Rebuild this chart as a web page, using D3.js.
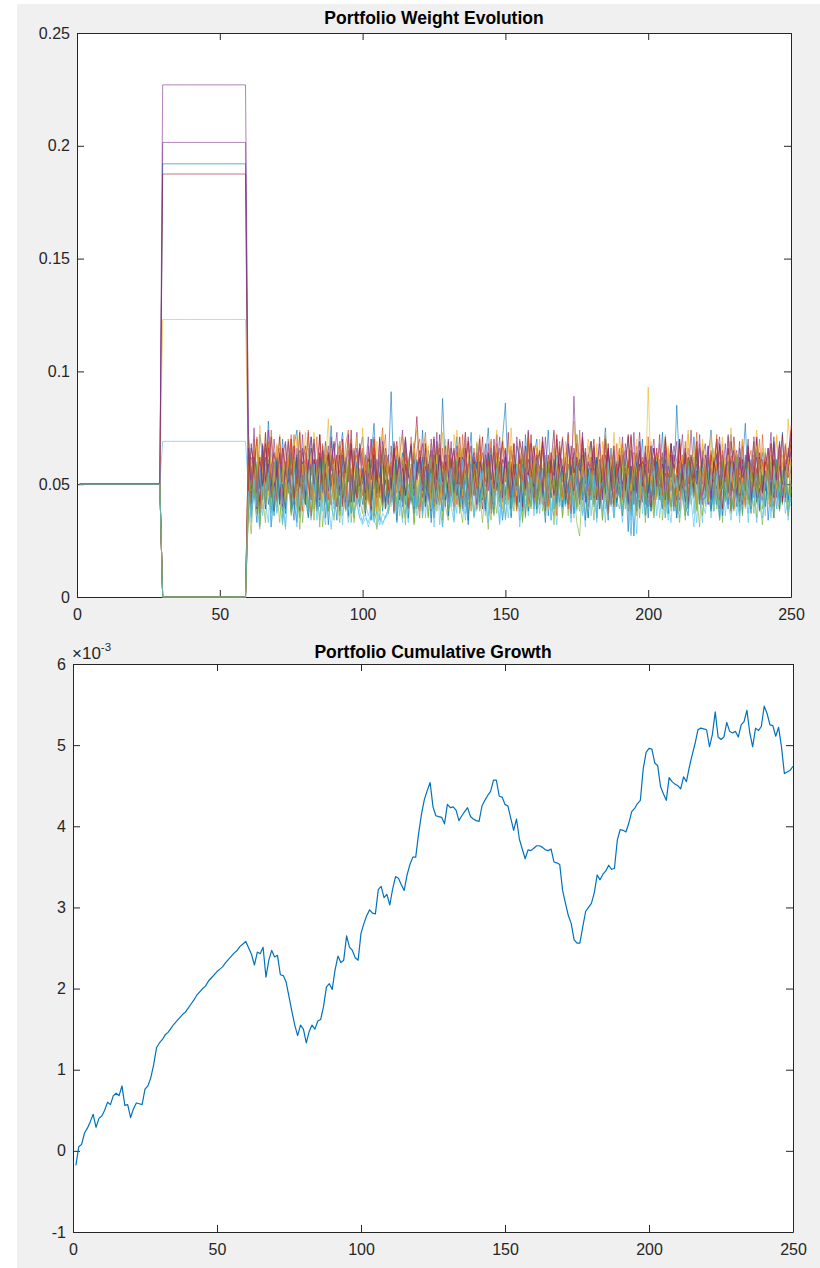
<!DOCTYPE html>
<html>
<head>
<meta charset="utf-8">
<script src="https://cdn.jsdelivr.net/npm/d3@7"></script>
<style>
  html, body { margin: 0; padding: 0; background: #ffffff; }
  svg { display: block; font-family: "Liberation Sans", Arial, Helvetica, sans-serif; }
</style>
</head>
<body>
<svg id="fig" width="820" height="1268"></svg>
<script>
// ---------- data ----------
const dayTicks = [0, 50, 100, 150, 200, 250];
const weightTicks = [0, 0.05, 0.1, 0.15, 0.2, 0.25];
const weightTickLabels = ["0", "0.05", "0.1", "0.15", "0.2", "0.25"];
const growthTicks = [-1, 0, 1, 2, 3, 4, 5, 6];

// equal weight over days 1-29
const equalWeight = 0.05;
// concentrated allocation held over days 30-59 (one value per asset)
const blockWeights = [0, 0, 0, 0.2015, 0, 0, 0, 0.192, 0, 0.123,
                      0, 0, 0.069, 0.1875, 0, 0, 0, 0.227, 0, 0];

// rebalanced weights over days 60-250, in thousandths
const asset01 = [48,66,59,41,72,63,50,78,57,44, 61,52,70,46,58,39,67,74,53,60, 45,63,71,55,38,62,49,69,58,76, 52,40,64,73,47,59,68,43,56,65, 71,54,46,62,77,51,60,42,66,57, 91,49,63,58,44,70,55,67,39,61, 53,74,48,65,57,42,69,51,88,56, 62,45,58,71,50,66,40,59,73,47, 68,56,43,61,75,52,64,48,57,70, 86,51,59,44,67,62,38,72,55,49, 63,70,46,57,53,74,50,61,42,66, 55,41,68,60,47,72,58,45,64,53, 69,50,62,39,58,75,54,66,48,60, 44,65,57,71,52,46,63,56,70,41, 59,67,49,62,54,73,45,58,68,51, 85,56,43,64,60,48,71,52,66,57, 47,62,74,55,41,68,59,50,63,72, 53,45,66,58,77,49,61,44,70,56, 64,52,59,47,69,55,42,73,50,62, 68];
const asset02 = [61,44,70,52,39,65,57,48,74,55, 42,63,51,68,46,59,72,40,56,64, 58,37,66,53,71,45,62,50,43,69, 47,60,55,41,67,74,49,58,63,44, 66,52,43,70,56,38,61,75,50,59, 54,68,46,60,42,65,53,71,48,57, 40,62,73,51,58,45,67,43,60,54, 69,48,56,64,41,72,50,59,46,66, 52,71,44,57,63,49,39,68,55,61, 45,58,67,42,54,70,62,47,73,50, 63,41,55,69,48,60,44,66,52,57, 71,53,46,62,58,40,74,51,64,47, 56,67,43,59,50,72,45,63,41,68, 49,60,65,38,71,54,58,46,62,53, 67,44,57,64,47,61,69,52,40,59, 43,70,52,58,66,45,55,73,48,62, 60,49,64,41,57,68,51,44,71,55, 46,62,54,70,43,59,65,50,57,39, 72,51,45,63,56,48,67,60,42,66, 58];
const asset03 = [70,53,62,45,76,58,49,67,41,63, 57,72,48,64,55,40,69,61,74,50, 46,66,58,73,52,43,65,57,79,48, 62,55,41,68,60,71,47,63,54,44, 75,50,64,56,45,69,53,72,59,42, 58,67,52,40,71,63,48,57,66,74, 49,61,70,55,44,65,59,46,73,56, 67,42,58,74,62,51,68,45,60,53, 54,72,47,63,57,69,41,66,52,71, 62,48,75,53,59,44,67,56,70,46, 58,64,50,71,43,62,55,73,48,66, 45,69,57,61,78,52,64,47,58,70, 63,51,68,44,60,73,56,49,67,54, 71,57,46,65,52,62,40,69,59,48, 93,54,61,47,66,58,72,50,63,45, 56,68,43,62,74,51,59,65,46,70, 60,47,72,55,64,42,68,57,53,75, 49,63,58,70,45,67,52,61,74,56, 66,54,41,68,59,72,48,63,55,79, 61];
const asset04 = [72,46,63,55,41,68,52,74,49,60, 43,66,57,39,70,54,62,47,65,51, 59,73,45,61,53,40,67,56,48,71, 50,62,69,44,57,65,42,58,73,47, 64,41,55,70,48,61,53,66,39,58, 46,69,52,63,74,45,57,42,68,55, 61,50,66,43,58,71,47,62,54,40, 70,56,44,67,52,60,73,48,57,64, 45,63,59,51,68,42,55,72,49,61, 58,47,65,56,40,69,62,50,74,53, 66,54,42,71,57,48,64,59,45,67, 51,60,73,46,89,55,41,63,58,49, 62,44,57,68,52,70,47,56,65,43, 55,71,48,60,39,64,58,73,50,62, 47,58,66,53,72,45,61,44,68,56, 69,43,55,62,50,74,52,59,41,65, 54,67,46,58,70,49,63,55,72,47, 60,52,69,41,57,66,45,71,53,62, 48,64,56,73,44,59,68,50,61,57, 65];
const asset05 = [40,28,52,37,58,44,33,61,47,38, 55,41,32,49,63,36,46,53,30,50, 43,59,35,48,39,56,31,45,62,42, 34,51,46,60,38,42,57,33,49,54, 47,36,62,41,53,30,48,58,39,44, 57,45,34,50,61,37,43,55,32,49, 39,52,47,35,58,44,63,40,31,51, 46,60,38,54,42,33,49,57,45,36, 53,40,59,44,30,51,46,37,62,48, 35,49,43,56,39,61,34,52,47,41, 58,37,50,45,63,40,54,32,48,55, 42,53,36,60,47,33,27,51,44,57, 49,34,55,41,58,46,38,62,35,50, 44,61,39,52,36,47,56,42,59,33, 51,38,46,57,43,62,35,49,40,54, 37,55,48,34,60,41,52,45,31,58, 53,42,61,38,47,56,33,50,44,39, 45,57,36,51,41,63,48,37,55,43, 32,48,54,40,59,45,38,52,46,61, 42];
const asset06 = [52,39,47,60,35,55,42,33,58,46, 37,53,44,31,57,49,40,62,36,48, 59,41,34,51,45,63,38,54,42,30, 46,56,39,48,61,35,52,43,57,38, 33,42,36,40,34,38,32,37,35,39, 50,38,57,44,33,59,47,41,54,36, 43,61,35,52,46,39,56,32,49,58, 55,40,48,37,62,45,34,53,41,47, 38,57,44,60,36,50,43,58,33,52, 48,35,53,42,56,31,46,61,39,55, 41,59,37,50,44,57,34,48,63,40, 56,43,49,35,60,38,52,45,31,54, 36,51,58,42,47,33,55,40,61,46, 53,39,45,57,28,50,41,59,37,48, 44,62,36,49,55,40,47,34,58,51, 35,48,56,43,39,61,37,52,45,33, 57,41,50,38,63,46,54,36,49,42, 40,55,33,59,45,37,51,60,42,48, 49,36,62,44,52,39,57,41,55,34, 47];
const asset07 = [63,42,57,70,48,61,39,66,53,45, 58,71,44,55,62,38,67,50,73,47, 41,60,54,68,46,72,52,43,64,56, 69,48,63,40,57,51,74,45,59,66, 53,37,61,55,70,44,49,65,42,58, 47,66,52,43,59,71,40,57,62,80, 56,44,68,50,38,63,54,72,46,60, 42,59,65,48,71,53,41,58,67,45, 64,50,39,62,55,45,70,47,57,69, 51,73,46,58,41,64,52,67,43,60, 67,45,56,69,48,40,61,54,72,49, 44,62,51,37,66,57,47,70,53,59, 58,70,43,55,63,49,68,41,56,46, 62,48,59,72,45,54,38,65,51,67, 40,57,66,50,61,43,71,55,47,63, 55,68,47,64,39,58,52,69,44,61, 49,41,63,57,70,46,60,53,66,38, 71,55,45,61,52,67,43,58,49,64, 46,63,54,40,68,50,59,72,44,57, 69];
const asset08 = [55,36,61,44,52,67,40,58,31,49, 62,45,38,56,50,64,42,33,59,47, 41,57,66,39,53,46,60,35,51,63, 48,34,55,62,43,58,37,65,46,40, 57,50,42,61,36,54,47,63,39,52, 44,59,33,51,64,41,56,48,37,60, 53,38,62,45,57,35,50,66,43,55, 36,61,49,58,40,53,45,32,63,47, 60,44,52,38,55,66,41,57,49,34, 46,57,39,63,50,42,59,36,54,61, 39,52,64,47,33,58,44,61,50,42, 56,41,48,59,37,62,45,53,34,57, 43,60,35,54,46,63,39,51,58,40, 62,47,55,41,58,27,53,44,60,36, 50,38,61,45,56,42,65,37,52,48, 35,58,46,52,40,63,49,56,43,61, 57,44,39,62,48,54,36,59,41,51, 46,63,52,37,60,43,55,49,65,38, 54,40,58,47,35,61,44,56,50,42, 59];
const asset09 = [44,62,53,71,40,58,66,47,55,38, 67,49,43,60,56,72,41,54,63,46, 52,74,45,57,39,64,50,68,43,59, 61,40,56,66,48,53,70,42,58,51, 45,63,50,38,69,55,44,61,72,47, 58,42,67,53,46,62,39,56,49,65, 70,51,44,59,63,40,57,68,45,53, 48,62,55,41,66,50,73,43,58,61, 39,56,64,49,52,70,46,59,42,67, 63,45,53,68,40,57,62,48,71,44, 55,66,41,52,60,47,64,39,56,69, 46,58,72,43,54,61,49,66,52,40, 62,41,57,65,47,70,44,55,63,50, 53,68,45,59,38,56,67,48,60,43, 71,49,62,44,57,52,40,64,47,58, 42,60,53,69,46,63,55,41,68,50, 57,46,65,51,72,43,59,54,39,62, 64,52,40,58,49,67,45,61,53,70, 48,63,56,42,61,50,68,44,57,53, 76];
const asset10 = [59,47,68,41,63,55,72,49,57,44, 51,66,58,43,70,48,61,39,64,55, 73,50,44,62,57,67,42,59,48,66, 46,61,69,53,40,58,64,50,71,43, 56,42,60,48,65,52,38,67,55,62, 64,54,47,71,43,60,57,45,66,50, 41,63,55,49,68,44,62,53,39,70, 58,45,72,60,51,66,40,56,63,47, 69,52,44,58,63,39,61,74,46,55, 43,67,57,50,45,65,53,42,60,68, 62,48,70,41,56,59,46,67,52,44, 53,64,45,61,49,72,55,40,58,63, 47,56,66,43,69,51,62,48,73,54, 65,42,58,54,47,61,70,45,56,50, 50,69,46,63,58,41,55,67,44,60, 57,44,62,49,72,53,45,64,51,68, 40,61,54,66,43,58,71,47,63,52, 68,50,59,45,62,48,56,70,41,57, 55,66,43,60,52,71,47,58,64,45, 60];
const asset11 = [66,51,75,46,60,43,68,55,71,48, 58,44,63,69,50,57,41,66,53,72, 45,61,56,70,42,64,51,58,67,49, 62,73,47,55,60,40,68,52,44,65, 50,57,71,43,63,54,46,69,58,41, 67,45,53,62,48,70,56,43,61,52, 59,68,42,57,65,50,73,46,55,63, 44,56,66,51,40,62,58,71,47,60, 57,70,49,63,54,45,67,52,60,42, 65,48,58,44,71,56,50,63,41,68, 52,62,47,67,55,43,60,74,49,57, 70,46,59,53,64,50,42,58,66,45, 48,63,54,71,43,57,65,47,60,52, 61,44,68,56,50,73,46,59,42,64, 55,67,45,60,52,48,70,41,63,58, 43,59,72,49,61,55,46,66,53,62, 68,50,57,44,63,71,48,56,60,45, 53,65,42,58,47,62,55,69,44,60, 61,47,66,52,71,44,58,50,67,56, 64];
const asset12 = [53,37,45,59,32,50,41,56,38,47, 42,58,35,51,46,61,39,44,55,33, 48,36,57,42,52,31,60,45,38,54, 56,44,33,49,62,40,47,35,58,43, 37,52,46,58,41,55,34,50,44,61, 45,60,39,47,35,53,42,57,33,51, 59,41,52,36,48,63,38,46,55,40, 34,49,57,44,39,52,61,37,47,56, 50,38,45,62,42,34,55,48,40,58, 41,56,36,50,59,45,33,53,46,39, 57,43,51,38,47,60,42,36,54,49, 36,54,48,42,61,39,50,57,44,35, 52,40,59,46,34,55,41,49,62,43, 39,57,44,53,37,48,58,35,50,45, 60,46,35,51,43,56,40,53,38,48, 44,33,52,58,41,47,62,39,55,36, 49,55,40,45,57,34,51,43,60,46, 38,51,58,36,53,44,39,56,47,61, 55,42,48,60,35,52,46,41,57,39, 50];
const asset13 = [49,35,55,41,30,52,44,58,37,46, 40,57,33,48,54,38,45,31,60,43, 53,42,37,59,46,34,50,41,56,39, 36,51,45,32,57,43,48,38,41,35, 34,37,31,36,33,38,35,32,36,39, 47,41,58,36,52,44,33,55,40,49, 38,54,45,60,35,48,42,57,31,51, 56,40,33,50,46,61,37,44,53,35, 42,59,48,36,55,39,51,45,32,58, 34,46,53,41,57,38,49,61,36,44, 51,37,43,56,40,53,34,47,59,42, 39,55,47,33,50,45,58,36,43,52, 57,42,36,54,38,49,44,60,35,47, 45,33,51,40,27,56,39,48,53,36, 38,50,44,59,35,47,55,41,33,52, 54,39,48,36,58,43,31,50,46,57, 41,56,35,49,44,60,38,53,42,34, 47,36,52,43,57,33,50,40,55,45, 35,48,58,38,46,53,41,56,37,43, 40];
const asset14 = [45,68,55,39,62,50,73,47,58,64, 53,41,66,57,48,70,44,61,38,59, 67,50,43,61,55,72,46,58,63,41, 54,63,48,70,42,57,65,51,44,68, 60,46,55,39,66,52,71,43,58,49, 42,62,69,51,57,45,60,67,48,55, 65,53,40,59,46,70,52,63,57,43, 51,66,58,45,62,39,56,69,44,60, 47,55,71,41,64,53,48,59,66,50, 62,43,52,68,49,61,40,57,54,72, 44,59,65,50,38,63,56,46,70,53, 58,48,41,67,55,60,44,71,50,62, 69,54,61,43,57,46,66,52,40,59, 50,63,47,58,72,41,55,64,49,56, 61,40,56,66,45,59,51,43,68,54, 46,70,53,42,62,57,48,65,55,41, 63,51,44,60,54,67,39,58,47,69, 55,45,62,52,40,64,57,49,71,46, 43,60,56,68,48,53,65,42,59,62, 74];
const asset15 = [39,58,46,33,55,49,62,41,52,36, 60,43,50,37,57,46,34,63,48,54, 44,35,59,51,40,62,47,55,32,53, 57,48,38,61,45,36,54,42,60,50, 41,56,49,34,59,47,63,38,52,44, 53,37,61,46,42,58,35,50,64,40, 48,62,43,55,33,51,59,45,38,57, 36,54,47,60,49,41,56,34,53,62, 58,42,51,39,63,46,37,57,44,50, 45,60,35,53,47,56,42,61,38,49, 52,39,57,44,62,36,50,55,41,59, 40,55,46,58,37,52,61,43,49,35, 57,44,62,39,51,47,34,58,53,42, 49,36,54,29,58,45,60,40,47,56, 35,52,43,60,46,39,55,49,62,38, 54,47,59,41,36,57,45,63,50,43, 44,61,38,52,48,35,58,46,41,60, 59,40,53,45,63,50,37,55,42,48, 47,56,34,51,44,60,39,53,58,43, 52];
const asset16 = [58,41,65,50,37,62,46,69,53,44, 47,63,55,40,59,70,43,52,61,38, 64,49,36,57,52,45,68,42,56,60, 43,55,67,48,39,61,53,66,41,57, 52,62,44,58,71,40,54,47,63,49, 60,38,56,45,53,67,42,59,50,46, 35,57,62,51,43,60,48,41,66,54, 63,46,40,59,55,44,65,51,38,58, 49,67,53,42,61,37,56,64,47,43, 56,44,60,48,38,63,52,45,69,51, 42,58,47,66,54,41,59,50,36,62, 61,51,39,55,45,68,43,57,53,47, 45,64,56,40,62,49,37,60,44,58, 66,43,52,61,47,55,64,39,57,46, 50,59,41,54,68,45,58,48,62,40, 57,38,63,46,51,60,44,67,42,55, 48,62,54,43,59,39,65,52,47,61, 39,56,45,67,50,58,41,63,55,44, 60,47,64,52,40,57,49,45,68,53, 56];
const asset17 = [42,61,48,67,55,39,58,45,64,51, 68,50,57,42,63,46,54,71,40,59, 47,56,64,38,60,53,44,67,52,41, 59,44,51,63,46,70,40,55,62,48, 64,53,41,57,49,38,66,52,45,60, 40,58,65,47,62,54,44,51,69,43, 55,46,60,67,39,52,63,41,57,49, 62,50,43,55,68,45,58,64,42,53, 46,63,58,44,51,60,42,55,66,39, 57,41,66,52,45,59,48,63,40,61, 50,67,44,58,62,39,55,47,60,53, 43,56,61,49,40,64,51,58,46,67, 60,45,53,65,56,42,48,61,54,44, 52,66,40,57,47,63,55,43,59,50, 64,48,56,43,61,52,38,66,49,57, 45,59,62,50,44,55,68,41,58,47, 61,42,53,65,57,46,50,62,44,56, 48,64,46,54,39,60,57,45,67,52, 58,51,63,41,55,48,66,53,46,62, 49];
const asset18 = [74,48,62,55,42,67,51,59,44,70, 53,64,40,58,69,46,55,62,49,66, 44,57,71,50,61,43,65,54,47,60, 68,51,45,63,55,72,42,58,66,49, 56,43,67,52,60,46,70,41,57,63, 48,65,54,61,40,59,53,68,45,56, 62,47,58,44,70,55,41,63,51,67, 53,69,46,57,62,48,66,43,59,52, 41,60,55,68,47,63,50,57,71,44, 66,52,44,59,54,42,69,48,61,56, 49,63,57,46,71,53,60,45,55,64, 58,43,68,52,47,62,56,73,42,60, 55,66,49,61,44,58,63,51,67,46, 63,50,57,42,65,54,47,69,52,59, 46,61,70,49,56,64,43,58,53,67, 60,48,55,66,41,62,57,50,72,45, 52,67,43,59,63,48,54,68,46,61, 65,44,60,53,57,70,42,55,62,50, 47,58,66,45,61,52,69,43,56,64, 71];
const asset19 = [36,52,44,58,31,48,41,55,39,60, 46,33,57,42,50,37,62,45,35,53, 58,40,47,34,56,44,51,63,38,49, 41,55,36,50,45,60,33,47,57,42, 53,38,59,43,35,51,46,40,61,37, 44,57,41,55,48,32,60,43,52,39, 50,35,54,46,62,40,45,58,34,56, 38,53,43,61,37,49,55,41,47,59, 55,46,33,51,58,42,36,60,44,50, 43,59,48,38,54,46,62,35,51,40, 61,40,52,44,36,57,47,53,39,55, 35,50,58,41,53,45,38,62,48,43, 56,42,47,60,34,51,57,44,40,53, 45,37,62,49,43,55,36,50,58,41, 52,59,39,46,57,34,48,43,60,47, 40,54,45,36,61,49,53,38,47,56, 58,43,51,55,39,46,60,42,53,37, 47,62,38,44,52,41,56,48,35,59, 39,51,57,43,49,60,42,54,46,36, 48];
const asset20 = [47,33,52,40,58,36,45,55,31,49, 38,54,43,30,51,46,57,35,48,41, 56,37,45,59,34,50,42,32,53,44, 39,49,55,36,46,33,41,37,43,35, 32,35,33,38,34,31,36,33,35,37, 45,52,38,57,41,35,50,44,59,40, 53,36,48,42,55,31,46,58,39,51, 41,57,34,50,45,38,54,43,60,36, 48,39,56,44,33,52,40,57,46,35, 55,42,37,49,58,34,51,39,45,53, 36,50,57,41,47,55,38,44,32,52, 49,40,46,54,35,58,43,37,56,41, 44,56,33,48,51,39,60,42,36,50, 57,38,45,53,34,47,28,55,43,39, 40,51,58,36,49,44,35,53,47,56, 52,35,43,59,38,50,45,33,55,42, 37,48,54,41,56,34,47,51,39,58, 55,43,36,50,44,57,40,48,33,46, 42,53,47,35,58,39,51,45,56,38, 44];

const rebalanced = [asset01, asset02, asset03, asset04, asset05, asset06, asset07, asset08, asset09, asset10,
                    asset11, asset12, asset13, asset14, asset15, asset16, asset17, asset18, asset19, asset20];

// cumulative growth per day (units of 1e-3), days 1-250
const cumulativeGrowth = [
 -0.18,0.05,0.08,0.22,0.28,0.36,0.45,0.29,0.40,0.43, 0.50,0.60,0.57,0.68,0.71,0.68,0.80,0.56,0.57,0.41,
 0.52,0.59,0.58,0.57,0.76,0.80,0.90,1.06,1.27,1.33, 1.37,1.43,1.46,1.51,1.56,1.60,1.64,1.68,1.71,1.76,
 1.81,1.86,1.92,1.96,2.00,2.03,2.09,2.13,2.17,2.21, 2.24,2.27,2.32,2.36,2.40,2.44,2.47,2.52,2.55,2.58,
 2.50,2.42,2.29,2.45,2.43,2.51,2.14,2.35,2.47,2.39, 2.41,2.17,2.16,2.08,1.90,1.72,1.55,1.42,1.55,1.50,
 1.33,1.47,1.55,1.50,1.60,1.62,1.78,2.02,2.06,1.99, 2.23,2.40,2.32,2.35,2.65,2.51,2.47,2.38,2.35,2.68,
 2.80,2.90,2.97,2.93,2.92,3.22,3.26,3.12,3.16,3.03, 3.23,3.38,3.36,3.28,3.21,3.40,3.53,3.62,3.62,3.91,
 4.15,4.33,4.44,4.54,4.24,4.13,4.12,4.11,4.03,4.27, 4.23,4.24,4.20,4.07,4.13,4.18,4.23,4.12,4.09,4.07,
 4.06,4.25,4.32,4.38,4.43,4.57,4.57,4.37,4.36,4.27, 4.25,4.10,3.95,4.09,3.84,3.72,3.60,3.71,3.70,3.73,
 3.76,3.76,3.74,3.71,3.70,3.72,3.56,3.55,3.53,3.21, 3.05,2.90,2.80,2.60,2.56,2.56,2.76,2.95,3.00,3.05,
 3.18,3.40,3.34,3.41,3.45,3.52,3.47,3.48,3.83,3.96, 3.95,3.93,4.04,4.18,4.22,4.28,4.32,4.71,4.91,4.96,
 4.95,4.78,4.75,4.49,4.40,4.32,4.60,4.55,4.52,4.50, 4.46,4.61,4.55,4.73,4.88,5.02,5.19,5.21,5.20,5.19,
 4.98,5.13,5.41,5.10,5.07,5.10,5.28,5.17,5.15,5.17, 5.10,5.25,5.29,5.43,5.15,4.98,5.21,5.18,5.23,5.48,
 5.39,5.25,5.24,5.11,5.22,4.98,4.65,4.67,4.69,4.74
];

// ---------- drawing ----------
const lineColors = ["#0072BD", "#D95319", "#EDB120", "#7E2F8E", "#77AC30", "#4DBEEE", "#A2142F"];
const axisColor = "#262626";
const svg = d3.select("#fig");

// figure background
svg.append("rect").attr("x", 17).attr("y", 4).attr("width", 803).attr("height", 1264).attr("fill", "#f0f0f0");

function drawAxes(g, x, y, xTicks, yTicks, yFormat) {
  const [x0, x1] = x.range();
  const [y0, y1] = y.range();
  g.append("rect").attr("x", x0).attr("y", y1).attr("width", x1 - x0).attr("height", y0 - y1).attr("fill", "#ffffff");

  const styleAxis = sel => {
    sel.selectAll("path, line").attr("stroke", axisColor).attr("stroke-width", 1);
    sel.selectAll("text").attr("fill", axisColor).attr("font-size", 16)
       .attr("font-family", "'Liberation Sans', Arial, Helvetica, sans-serif");
  };
  g.append("g").attr("transform", `translate(0,${y0})`)
    .call(d3.axisBottom(x).tickValues(xTicks).tickSize(-7).tickSizeOuter(0).tickPadding(12).tickFormat(d => String(d)))
    .call(styleAxis);
  g.append("g").attr("transform", `translate(0,${y1})`)
    .call(d3.axisTop(x).tickValues(xTicks).tickSize(-7).tickSizeOuter(0).tickFormat(""))
    .call(styleAxis);
  g.append("g").attr("transform", `translate(${x0},0)`)
    .call(d3.axisLeft(y).tickValues(yTicks).tickSize(-7).tickSizeOuter(0).tickPadding(7).tickFormat(yFormat))
    .call(styleAxis);
  g.append("g").attr("transform", `translate(${x1},0)`)
    .call(d3.axisRight(y).tickValues(yTicks).tickSize(-7).tickSizeOuter(0).tickFormat(""))
    .call(styleAxis);
}

// ----- upper panel: weights -----
const days = d3.range(1, 251);
const xW = d3.scaleLinear().domain([0, 250]).range([77, 791]);
const yW = d3.scaleLinear().domain([0, 0.25]).range([597, 33]);
const weightPanel = svg.append("g");
drawAxes(weightPanel, xW, yW, dayTicks, weightTicks, (d, i) => weightTickLabels[i]);

const weightSeries = rebalanced.map((vals, i) => days.map(d => ({
  day: d,
  w: d < 30 ? equalWeight : d < 60 ? blockWeights[i] : vals[d - 60] / 1000
})).filter(p => p.w !== undefined && !Number.isNaN(p.w)));

const lineW = d3.line().x(p => xW(p.day)).y(p => yW(p.w));
weightPanel.append("g").selectAll("path").data(weightSeries).join("path")
  .attr("d", lineW)
  .attr("fill", "none")
  .attr("stroke", (d, i) => lineColors[i % lineColors.length])
  .attr("stroke-width", 0.6)
  .attr("stroke-linejoin", "round");

weightPanel.append("text").attr("x", (xW.range()[0] + xW.range()[1]) / 2).attr("y", 24)
  .attr("text-anchor", "middle").attr("font-weight", "bold").attr("font-size", 17.5)
  .attr("fill", "#000").text("Portfolio Weight Evolution");

// ----- lower panel: cumulative growth -----
const xG = d3.scaleLinear().domain([0, 250]).range([73, 793]);
const yG = d3.scaleLinear().domain([-1, 6]).range([1232, 664]);
const growthPanel = svg.append("g");
drawAxes(growthPanel, xG, yG, dayTicks, growthTicks, d => String(d));

const lineG = d3.line().x((v, i) => xG(i + 1)).y(v => yG(v));
growthPanel.append("path").datum(cumulativeGrowth)
  .attr("d", lineG)
  .attr("fill", "none")
  .attr("stroke", "#0072BD")
  .attr("stroke-width", 1.2)
  .attr("stroke-linejoin", "round");

growthPanel.append("text").attr("x", (xG.range()[0] + xG.range()[1]) / 2).attr("y", 658)
  .attr("text-anchor", "middle").attr("font-weight", "bold").attr("font-size", 17.5)
  .attr("fill", "#000").text("Portfolio Cumulative Growth");

// axis exponent
const expo = growthPanel.append("text").attr("x", 72).attr("y", 659).attr("font-size", 17).attr("fill", axisColor);
expo.append("tspan").text("\u00d710");
expo.append("tspan").attr("font-size", 11.5).attr("dy", -8).text("-3");
</script>
</body>
</html>
